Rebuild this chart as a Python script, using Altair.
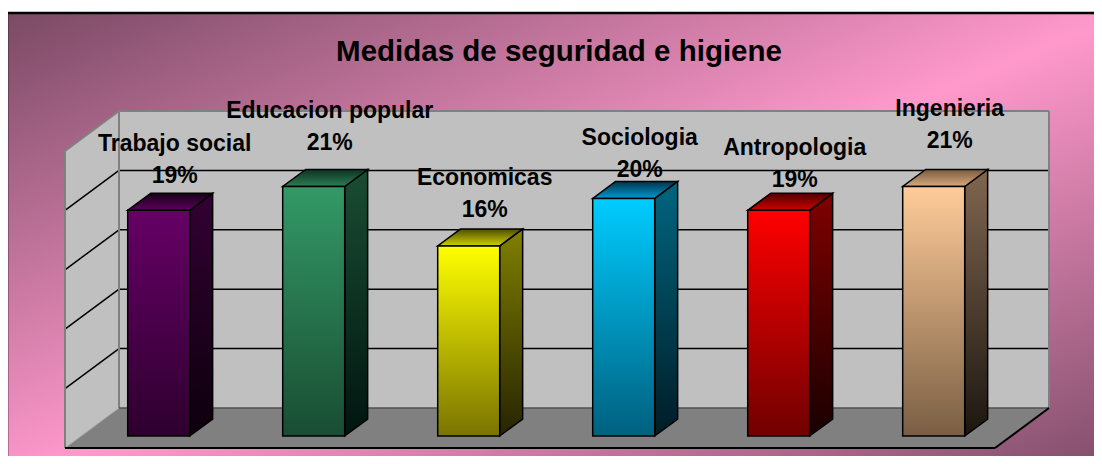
import altair as alt
import pandas as pd

# ---------------- data ----------------
TITLE = "Medidas de seguridad e higiene"
categories = ["Trabajo social", "Educacion popular", "Economicas", "Sociologia", "Antropologia", "Ingenieria"]
values = [19, 21, 16, 20, 19, 21]
pct_labels = ["19%", "21%", "16%", "20%", "19%", "21%"]
grid_values = [5, 10, 15, 20]
axis_max = 25

# ---------------- layout / style ----------------
W, H = 1086, 448
PX_CAT = 155.0          # px per category slot
PX_PCT = 11.88          # px per percent
X0_PX, Y0_PX = 57, 440  # view position of floor front-left corner
DX = 54 / PX_CAT        # depth offset (category units)
DY = 40 / PX_PCT        # depth offset (percent units)
D0, D1 = 0.30, 0.725    # bar front/back depth
BAR_W = 62 / PX_CAT
LABEL_LIFT_PX = [27, 37, 29, 21, 23, 39]
FONT = "Liberation Sans"

front_cols = [("#660066", "#2e002e"), ("#339966", "#194d33"), ("#ffff00", "#7a7400"),
              ("#00ccff", "#00607f"), ("#ff0000", "#700000"), ("#ffcc99", "#7a5e44")]
side_cols = [("#330033", "#0d000d"), ("#1a4d33", "#001510"), ("#808000", "#262400"),
             ("#006680", "#001c26"), ("#800000", "#1a0000"), ("#806650", "#1c1610")]
top_cols = [("#1a001a", "#5c005c"), ("#0d3320", "#2d7d55"), ("#4d4d00", "#d0d000"),
            ("#00334d", "#0099cc"), ("#4d0000", "#d00000"), ("#7a5a3e", "#d8aa7c")]

xs = alt.Scale(domain=[-X0_PX / PX_CAT, (W - X0_PX) / PX_CAT], nice=False, zero=False)
ys = alt.Scale(domain=[-(H - Y0_PX) / PX_PCT, Y0_PX / PX_PCT], nice=False, zero=False)


def grad(c_top, c_bot):
    return {"gradient": "linear", "x1": 0, "y1": 0, "x2": 0, "y2": 1,
            "stops": [{"offset": 0, "color": c_top}, {"offset": 1, "color": c_bot}]}


n = len(categories)
dd_x = (D1 - D0) * DX
dd_y = (D1 - D0) * DY

front_rows, side_rows, top_rows, label_rows = [], [], [], []
for i, (c, v) in enumerate(zip(categories, values)):
    cx = i + 0.5 + D0 * DX
    xl, xr = cx - BAR_W / 2, cx + BAR_W / 2
    yb, yt = D0 * DY, v + D0 * DY
    front_rows.append({"cat": c, "x": xl, "x2": xr, "y": yb, "y2": yt})
    side_rows += [{"cat": c, "x": xr, "y": yb, "y2": yt},
                  {"cat": c, "x": xr + dd_x, "y": yb + dd_y, "y2": yt + dd_y}]
    top_rows += [{"cat": c, "y": yt, "x": xl, "x2": xr},
                 {"cat": c, "y": yt + dd_y, "x": xl + dd_x, "x2": xr + dd_x}]
    label_rows.append({"cat": c, "pct": pct_labels[i], "x": cx,
                       "y": yt + LABEL_LIFT_PX[i] / PX_PCT})

front_df = pd.DataFrame(front_rows)
side_df = pd.DataFrame(side_rows)
top_df = pd.DataFrame(top_rows)
label_df = pd.DataFrame(label_rows)

# walls / floor
left_wall = pd.DataFrame({"x": [0, DX], "y": [0, DY], "y2": [axis_max, axis_max + DY]})
floor = pd.DataFrame({"y": [0, DY], "x": [0, DX], "x2": [n, n + DX]})
back_wall = pd.DataFrame({"x": [DX], "x2": [n + DX], "y": [DY], "y2": [axis_max + DY]})

edges = []
for g in grid_values:
    edges.append({"kind": "grid", "x": DX, "y": g + DY, "x2": n + DX, "y2": g + DY})
    edges.append({"kind": "grid", "x": 0, "y": g, "x2": DX, "y2": g + DY})
edges += [
    {"kind": "wall", "x": 0, "y": 0, "x2": 0, "y2": axis_max},
    {"kind": "wall", "x": 0, "y": axis_max, "x2": DX, "y2": axis_max + DY},
    {"kind": "wall", "x": DX, "y": DY, "x2": DX, "y2": axis_max + DY},
    {"kind": "wall", "x": DX, "y": axis_max + DY, "x2": n + DX, "y2": axis_max + DY},
    {"kind": "wall", "x": n + DX, "y": DY, "x2": n + DX, "y2": axis_max + DY},
    {"kind": "floorback", "x": DX, "y": DY, "x2": n + DX, "y2": DY},
    {"kind": "floorleft", "x": 0, "y": 0, "x2": DX, "y2": DY},
    {"kind": "floorfront", "x": 0, "y": 0, "x2": n, "y2": 0},
    {"kind": "floorfront", "x": n, "y": 0, "x2": n + DX, "y2": DY},
]
edge_df = pd.DataFrame(edges)

X = lambda f: alt.X(f"{f}:Q", scale=xs, axis=None)
Y = lambda f: alt.Y(f"{f}:Q", scale=ys, axis=None)

dummy = pd.DataFrame({"a": [0]})
bg = alt.Chart(dummy).mark_rect(
    fill={"gradient": "linear", "x1": 0, "y1": 0, "x2": 1, "y2": 1,
          "stops": [{"offset": 0, "color": "#7a4a64"}, {"offset": 0.5, "color": "#ff99cc"},
                    {"offset": 1, "color": "#7a4a64"}]},
    stroke="black", strokeWidth=2.5
).encode(x=alt.value(-1), x2=alt.value(W + 30), y=alt.value(5), y2=alt.value(H + 30))

layers = [bg]
layers.append(alt.Chart(back_wall).mark_rect(fill="#c0c0c0").encode(
    x=X("x"), x2="x2:Q", y=Y("y"), y2="y2:Q"))
layers.append(alt.Chart(left_wall).mark_area(orient="vertical", fill="#c0c0c0").encode(
    x=X("x"), y=Y("y"), y2="y2:Q"))
layers.append(alt.Chart(floor).mark_area(orient="horizontal", fill="#808080").encode(
    y=Y("y"), x=X("x"), x2="x2:Q"))

edge_styles = {"grid": ("black", 1.5), "wall": ("#808080", 2), "floorback": ("#505050", 1.5),
               "floorleft": ("#a8a8a8", 1), "floorfront": ("black", 2)}
for kind, (col, sw) in edge_styles.items():
    layers.append(alt.Chart(edge_df).transform_filter(alt.datum.kind == kind).mark_rule(
        color=col, strokeWidth=sw).encode(x=X("x"), x2="x2:Q", y=Y("y"), y2="y2:Q"))

for i, c in enumerate(categories):
    layers.append(alt.Chart(side_df).transform_filter(alt.datum.cat == c).mark_area(
        orient="vertical", fill=grad(*side_cols[i]), stroke="black", strokeWidth=1.5).encode(
        x=X("x"), y=Y("y"), y2="y2:Q"))
    layers.append(alt.Chart(top_df).transform_filter(alt.datum.cat == c).mark_area(
        orient="horizontal", fill=grad(*top_cols[i]), stroke="black", strokeWidth=1.5).encode(
        y=Y("y"), x=X("x"), x2="x2:Q"))
    layers.append(alt.Chart(front_df).transform_filter(alt.datum.cat == c).mark_rect(
        fill=grad(*front_cols[i]), stroke="black", strokeWidth=1.5).encode(
        x=X("x"), x2="x2:Q", y=Y("y"), y2="y2:Q"))

txt = dict(font=FONT, fontSize=23, fontWeight="bold", color="black",
           align="center", baseline="alphabetic", dx=16)
layers.append(alt.Chart(label_df).mark_text(**txt).encode(x=X("x"), y=Y("y"), text="pct:N"))
layers.append(alt.Chart(label_df).mark_text(dy=-32, **txt).encode(x=X("x"), y=Y("y"), text="cat:N"))

title_df = pd.DataFrame({"t": [TITLE]})
layers.append(alt.Chart(title_df).mark_text(
    font=FONT, fontSize=29.5, fontWeight="bold", color="black", align="center",
    baseline="alphabetic").encode(x=alt.value(551), y=alt.value(53), text="t:N"))

chart = alt.layer(*layers).properties(
    width=W, height=H, padding=0, autosize="none", background="white"
).configure_view(strokeWidth=0)

chart.save("out.html", embed_options={"renderer": "svg", "actions": False})
